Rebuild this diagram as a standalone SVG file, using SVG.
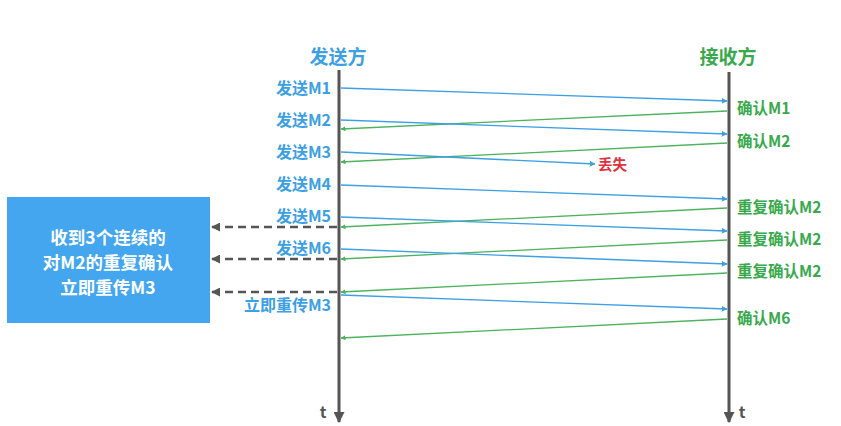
<svg xmlns="http://www.w3.org/2000/svg" width="841" height="426" viewBox="0 0 841 426">
<style>
text{font-family:"Noto Sans CJK SC","Noto Sans",sans-serif;font-weight:bold}
.s{fill:#3d9fe4;font-size:16px;text-anchor:end}
.r{fill:#3aa94e;font-size:15.5px}
.ttl{font-size:19px;stroke:#ffffff;stroke-width:4;paint-order:stroke;stroke-linejoin:round}
.b{stroke:#3d9fe4;stroke-width:1.3;fill:none}
.g{stroke:#4cb25c;stroke-width:1.3;fill:none}
.d{stroke:#555;stroke-width:2.5;stroke-dasharray:8 5;fill:none}
.ax{stroke:#555;stroke-width:3;fill:none}
.box{fill:#43a6ef}
.bt{fill:#fff;font-size:17.5px;text-anchor:middle}
</style>
<defs>
<marker id="ab" viewBox="0 0 10 10" refX="9" refY="5" markerWidth="6" markerHeight="6" orient="auto" markerUnits="userSpaceOnUse"><path d="M0,0L10,5L0,10z" fill="#3d9fe4"/></marker>
<marker id="ag" viewBox="0 0 10 10" refX="9" refY="5" markerWidth="5" markerHeight="5" orient="auto" markerUnits="userSpaceOnUse"><path d="M0,0L10,5L0,10z" fill="#4cb25c"/></marker>
<marker id="ad" viewBox="0 0 10 10" refX="9" refY="5" markerWidth="9" markerHeight="9" orient="auto" markerUnits="userSpaceOnUse"><path d="M0,0L10,5L0,10z" fill="#555"/></marker>
<marker id="ax" viewBox="0 0 10 10" refX="9" refY="5" markerWidth="11" markerHeight="11" orient="auto" markerUnits="userSpaceOnUse"><path d="M0,0L10,5L0,10z" fill="#555"/></marker>
</defs>
<rect width="841" height="426" fill="#fff"/>
<g id="sender">
<line class="ax" x1="339" y1="70" x2="339" y2="422" marker-end="url(#ax)"/>
<text class="ttl" x="338" y="64" text-anchor="middle" fill="#3d9fe4">发送方</text>
<text x="323" y="418" fill="#555" font-size="16" text-anchor="middle">t</text>
</g>
<g id="receiver">
<line class="ax" x1="729" y1="72" x2="729" y2="422" marker-end="url(#ax)"/>
<text class="ttl" x="728" y="64" text-anchor="middle" fill="#3aa94e">接收方</text>
<text x="742" y="418" fill="#555" font-size="16" text-anchor="middle">t</text>
</g>
<g id="sender-labels">
<text class="s" x="331" y="94">发送M1</text>
<text class="s" x="331" y="126">发送M2</text>
<text class="s" x="331" y="158">发送M3</text>
<text class="s" x="331" y="190">发送M4</text>
<text class="s" x="331" y="222">发送M5</text>
<text class="s" x="331" y="254">发送M6</text>
<text class="s" x="331" y="311">立即重传M3</text>
</g>
<g id="receiver-labels">
<text class="r" x="737" y="114">确认M1</text>
<text class="r" x="737" y="147">确认M2</text>
<text class="r" x="737" y="213">重复确认M2</text>
<text class="r" x="737" y="245">重复确认M2</text>
<text class="r" x="737" y="277">重复确认M2</text>
<text class="r" x="737" y="324">确认M6</text>
</g>
<g id="lost">
<text x="598" y="170" font-size="14.5" fill="#e0313d" stroke="#fff" stroke-width="3" paint-order="stroke" stroke-linejoin="round">丢失</text>
</g>
<g id="box">
<rect class="box" x="7" y="197" width="203" height="126"/>
<text class="bt" x="108" y="244">收到3个连续的</text>
<text class="bt" x="108" y="269">对M2的重复确认</text>
<text class="bt" x="108" y="294">立即重传M3</text>
</g>
<g id="connectors">
<line class="b" x1="341" y1="88" x2="727" y2="101" marker-end="url(#ab)"/>
<line class="g" x1="727" y1="111" x2="341" y2="129" marker-end="url(#ag)"/>
<line class="b" x1="341" y1="120" x2="727" y2="134" marker-end="url(#ab)"/>
<line class="g" x1="727" y1="143" x2="341" y2="162" marker-end="url(#ag)"/>
<line class="b" x1="341" y1="152" x2="595" y2="164" marker-end="url(#ab)"/>
<line class="b" x1="341" y1="185" x2="727" y2="199" marker-end="url(#ab)"/>
<line class="g" x1="727" y1="208" x2="341" y2="227" marker-end="url(#ag)"/>
<line class="b" x1="341" y1="217" x2="727" y2="231" marker-end="url(#ab)"/>
<line class="g" x1="727" y1="240" x2="341" y2="259" marker-end="url(#ag)"/>
<line class="b" x1="341" y1="249" x2="727" y2="264" marker-end="url(#ab)"/>
<line class="g" x1="727" y1="273" x2="341" y2="292" marker-end="url(#ag)"/>
<line class="b" x1="341" y1="295" x2="727" y2="309" marker-end="url(#ab)"/>
<line class="g" x1="727" y1="319" x2="341" y2="338" marker-end="url(#ag)"/>
<line class="d" x1="337" y1="227" x2="212" y2="227" marker-end="url(#ad)"/>
<line class="d" x1="337" y1="259" x2="212" y2="259" marker-end="url(#ad)"/>
<line class="d" x1="337" y1="292" x2="212" y2="292" marker-end="url(#ad)"/>
</g>
</svg>
